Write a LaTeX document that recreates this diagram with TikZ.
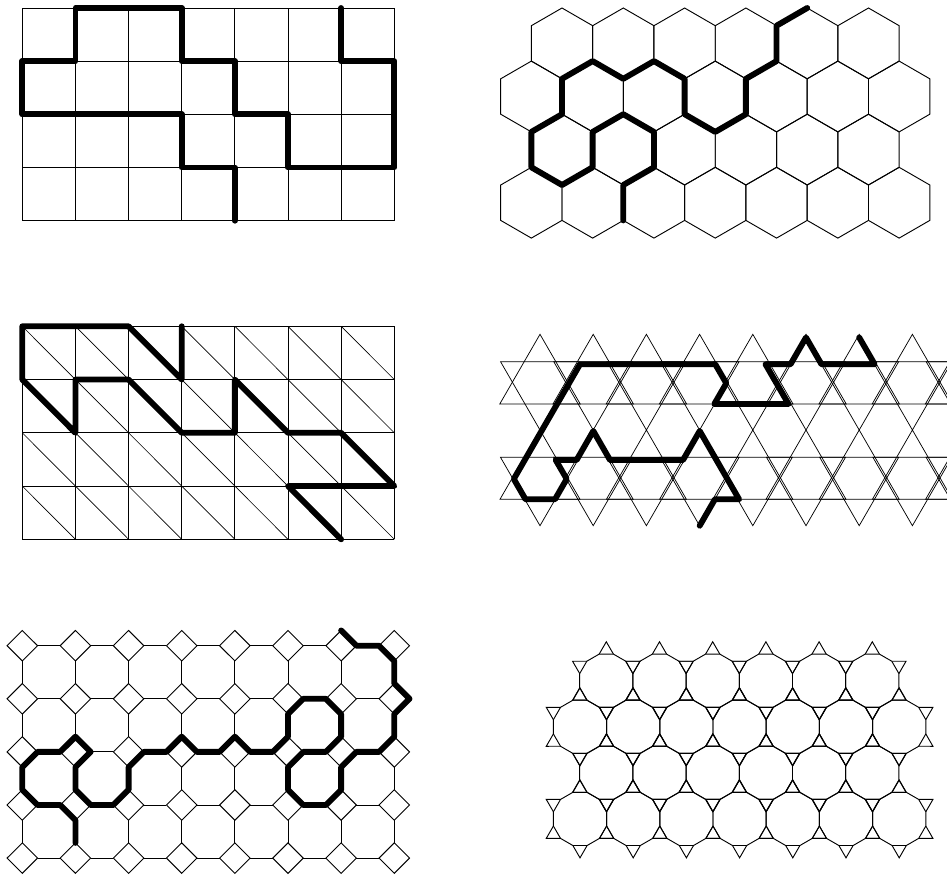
\documentclass[tikz,border=0pt]{standalone}
\newcommand\mydodec[2]{%
  \begin{scope}[shift={({#1},{#2})}]
    \draw[thinl] (15:27.54) \foreach \m in {1,...,11}{ -- ({15+30*\m}:27.54)} -- cycle;
    \foreach \t in {30,90,...,330}
      \draw[thinl] ({\t-15}:27.54) -- (\t:38.95) -- ({\t+15}:27.54);
  \end{scope}}
\begin{document}
\begin{tikzpicture}[x=0.75pt,y=-0.75pt,
  thinl/.style={line width=0.7pt},
  thk/.style={line width=4.4pt,line cap=round,line join=round}]
\fill[white] (0,0) rectangle (947,875);
\useasboundingbox (0,0) rectangle (947,875);

% ---------- Panel 1: square grid ----------
\begin{scope}[shift={(22.3,8)},xscale=53.14,yscale=53.17]
  \foreach \i in {0,...,7} \draw[thinl] (\i,0) -- (\i,4);
  \foreach \j in {0,...,4} \draw[thinl] (0,\j) -- (7,\j);
  \draw[thk] (4,4) -- (4,3) -- (3,3) -- (3,2) -- (0,2) -- (0,1) -- (1,1) -- (1,0)
    -- (3,0) -- (3,1) -- (4,1) -- (4,2) -- (5,2) -- (5,3) -- (7,3) -- (7,1) -- (6,1) -- (6,0);
\end{scope}

% ---------- Panel 2: hexagonal grid ----------
\begin{scope}[shift={(500.7,8)},xscale=30.65,yscale=17.7]
  \foreach \i in {2,4,...,12} \foreach \j in {2,8}
    \draw[thinl] (\i,{\j-2}) -- ({\i+1},{\j-1}) -- ({\i+1},{\j+1}) -- (\i,{\j+2}) -- ({\i-1},{\j+1}) -- ({\i-1},{\j-1}) -- cycle;
  \foreach \i in {1,3,...,13} \foreach \j in {5,11}
    \draw[thinl] (\i,{\j-2}) -- ({\i+1},{\j-1}) -- ({\i+1},{\j+1}) -- (\i,{\j+2}) -- ({\i-1},{\j+1}) -- ({\i-1},{\j-1}) -- cycle;
  \draw[thk] (10,0) -- (9,1) -- (9,3) -- (8,4) -- (8,6) -- (7,7) -- (6,6) -- (6,4) -- (5,3)
    -- (4,4) -- (3,3) -- (2,4) -- (2,6) -- (1,7) -- (1,9) -- (2,10) -- (3,9) -- (3,7)
    -- (4,6) -- (5,7) -- (5,9) -- (4,10) -- (4,12);
\end{scope}

% ---------- Panel 3: triangulated square grid ----------
\begin{scope}[shift={(22.3,326.3)},xscale=53.14,yscale=53.25]
  \foreach \i in {0,...,7} \draw[thinl] (\i,0) -- (\i,4);
  \foreach \j in {0,...,4} \draw[thinl] (0,\j) -- (7,\j);
  \foreach \i in {0,...,6} \foreach \j in {0,...,3}
    \draw[line width=0.5pt] (\i,\j) -- ({\i+1},{\j+1});
  \draw[thk] (3,0) -- (3,1) -- (2,0) -- (0,0) -- (0,1) -- (1,2) -- (1,1) -- (2,1) -- (3,2)
    -- (4,2) -- (4,1) -- (5,2) -- (6,2) -- (7,3) -- (5,3) -- (6,4);
\end{scope}

% ---------- Panel 4: kagome of hexagrams ----------
\begin{scope}
  \clip (495,320) rectangle (947,540);
  \foreach \k in {0,...,8} {
    \pgfmathsetmacro\X{540+53.2*\k}
    \draw[line width=0.55pt] (\X,334.3) -- ({\X-40.24},404) -- ({\X+40.24},404) -- cycle;
    \draw[line width=0.55pt] ({\X-39.44},361.7) -- ({\X+39.44},361.7) -- (\X,430) -- cycle;
    \draw[line width=0.55pt] (\X,430) -- ({\X-40.01},499.3) -- ({\X+40.01},499.3) -- cycle;
    \draw[line width=0.55pt] ({\X-39.5},457.3) -- ({\X+39.5},457.3) -- (\X,525.7) -- cycle;
  }
\end{scope}
\draw[thk] (699.7,525.7) -- (714.9,499.3) -- (739.1,499.3) -- (699.7,431) -- (683,460)
  -- (610,460) -- (593.3,431) -- (576.6,460) -- (555.7,460) -- (566.7,479) -- (555,499.3)
  -- (525.5,499.3) -- (513.8,479) -- (580,364.3) -- (715.3,364.3) -- (726.3,383.3)
  -- (714.3,404) -- (788.5,404) -- (765.5,364.3) -- (790.5,364.3) -- (806,337.5)
  -- (821.5,364.3) -- (874.7,364.3) -- (859.2,337.5);

% ---------- Panel 5: truncated square tiling ----------
\def\hh{0.287}
\begin{scope}[shift={(22.3,645.7)},xscale=53.14,yscale=53.1]
  \foreach \c in {0,...,7} \foreach \r in {0,...,4}
    \draw[thinl] ({\c-\hh},\r) -- (\c,{\r-\hh}) -- ({\c+\hh},\r) -- (\c,{\r+\hh}) -- cycle;
  \foreach \c in {0,...,6} \foreach \r in {0,...,4}
    \draw[thinl] ({\c+\hh},\r) -- ({\c+1-\hh},\r);
  \foreach \c in {0,...,7} \foreach \r in {0,...,3}
    \draw[thinl] (\c,{\r+\hh}) -- (\c,{\r+1-\hh});
  \draw[thk] (6,{-\hh}) -- ({6+\hh},0) -- ({7-\hh},0) -- (7,\hh) -- (7,{1-\hh}) -- ({7+\hh},1)
    -- (7,{1+\hh}) -- (7,{2-\hh}) -- ({7-\hh},2) -- ({6+\hh},2) -- (6,{2+\hh}) -- (6,{3-\hh})
    -- ({6-\hh},3) -- ({5+\hh},3) -- (5,{3-\hh}) -- (5,{2+\hh}) -- ({5+\hh},2) -- ({6-\hh},2)
    -- (6,{2-\hh}) -- (6,{1+\hh}) -- ({6-\hh},1) -- ({5+\hh},1) -- (5,{1+\hh}) -- (5,{2-\hh})
    -- ({5-\hh},2) -- ({4+\hh},2) -- (4,{2-\hh}) -- ({4-\hh},2) -- ({3+\hh},2) -- (3,{2-\hh})
    -- ({3-\hh},2) -- ({2+\hh},2) -- (2,{2+\hh}) -- (2,{3-\hh}) -- ({2-\hh},3) -- ({1+\hh},3)
    -- (1,{3-\hh}) -- (1,{2+\hh}) -- ({1+\hh},2) -- (1,{2-\hh}) -- ({1-\hh},2) -- (\hh,2)
    -- (0,{2+\hh}) -- (0,{3-\hh}) -- (\hh,3) -- ({1-\hh},3) -- (1,{3+\hh}) -- (1,{4-\hh});
\end{scope}

% ---------- Panel 6: truncated hexagonal tiling ----------
\foreach \k in {0,...,5} {
  \mydodec{606.3+53.2*\k}{680.7}
  \mydodec{606.3+53.2*\k}{772.8}
}
\foreach \k in {0,...,6} {
  \mydodec{580+53.2*\k}{726.8}
  \mydodec{580+53.2*\k}{818.9}
}
\end{tikzpicture}
\end{document}
